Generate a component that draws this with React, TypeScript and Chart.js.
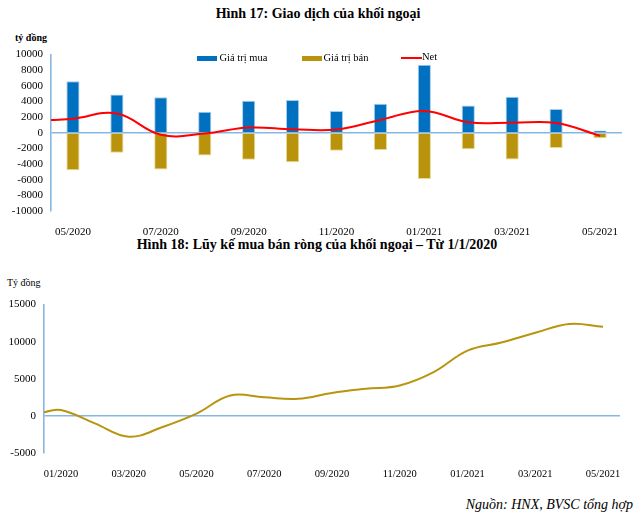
import React, { useEffect, useRef } from "react";
import { Chart, registerables } from "chart.js";

Chart.register(...registerables);

// ---------- Data: Hình 17 ----------
const months1 = ["05/2020", "06/2020", "07/2020", "08/2020", "09/2020", "10/2020", "11/2020", "12/2020", "01/2021", "02/2021", "03/2021", "04/2021", "05/2021"];
const buyValues = [6600, 4900, 4550, 2700, 4100, 4200, 2800, 3700, 8700, 3500, 4600, 3050, 300];
const sellValues = [-4800, -2550, -4700, -2900, -3450, -3750, -2300, -2200, -5900, -2100, -3400, -1950, -700];
const netStart = 1630;
const netValues = [1800, 2460, -250, -100, 670, 450, 420, 1650, 2800, 1340, 1300, 1250, -375];
const yTicks1 = { min: -10000, max: 10000, step: 2000 };

// ---------- Data: Hình 18 ----------
const months2 = ["01/2020", "02/2020", "03/2020", "04/2020", "05/2020", "06/2020", "07/2020", "08/2020", "09/2020", "10/2020", "11/2020", "12/2020", "01/2021", "02/2021", "03/2021", "04/2021", "05/2021"];
const cumStart = 500;
const cumValues = [800, -1000, -2800, -1500, 300, 2750, 2500, 2300, 3100, 3650, 4100, 5900, 8800, 9900, 11200, 12400, 12000];
const yTicks2 = { min: -5000, max: 15000, step: 5000 };

const SERIF = "'Liberation Serif', 'DejaVu Serif', 'Times New Roman', serif";
const AXIS_BLUE = "#86B7E3";
const BLUE = "#0070C0";
const GOLD = "#B8930B";
const RED = "#FF0000";

Chart.defaults.font.family = SERIF;
Chart.defaults.color = "#000";

const plainNumber = (v: any) => String(Math.round(Number(v)));

function ChartTop() {
  const ref = useRef<HTMLCanvasElement | null>(null);
  useEffect(() => {
    if (!ref.current) return;
    const chart = new Chart(ref.current, {
      type: "bar",
      data: {
        labels: months1,
        datasets: [
          {
            type: "line",
            label: "Net",
            xAxisID: "xLine",
            data: [{ x: -0.5, y: netStart }, ...netValues.map((v, i) => ({ x: i, y: v }))],
            borderColor: RED,
            borderWidth: 2,
            pointRadius: 0,
            tension: 0.4,
            order: 0,
          } as any,
          {
            label: "Giá trị mua",
            data: buyValues,
            backgroundColor: BLUE,
            borderColor: "#A9CBEA",
            borderWidth: 1,
            barPercentage: 0.3,
            categoryPercentage: 1,
            grouped: false,
            order: 1,
          } as any,
          {
            label: "Giá trị bán",
            data: sellValues,
            backgroundColor: GOLD,
            borderColor: "#E8D892",
            borderWidth: 1,
            barPercentage: 0.3,
            categoryPercentage: 1,
            grouped: false,
            order: 1,
          } as any,
        ],
      },
      options: {
        responsive: false,
        animation: false,
        layout: { padding: { top: 11, right: 18, left: 0, bottom: 0 } },
        plugins: { legend: { display: false }, tooltip: { enabled: false }, title: { display: false } },
        scales: {
          x: {
            type: "category",
            offset: true,
            grid: { display: false },
            border: { display: false },
            ticks: {
              autoSkip: false,
              maxRotation: 0,
              padding: 7,
              font: { size: 11, family: SERIF },
              color: "#000",
              callback: (_v: any, i: number) => (i % 2 === 0 ? months1[i] : ""),
            },
            afterFit: (s: any) => {
              s.height = 24;
            },
          },
          xLine: {
            type: "linear",
            display: false,
            offset: false,
            min: -0.5,
            max: months1.length - 0.5,
            grid: { offset: false },
          },
          y: {
            min: yTicks1.min,
            max: yTicks1.max,
            ticks: {
              stepSize: yTicks1.step,
              autoSkip: false,
              padding: 8,
              font: { size: 11, family: SERIF },
              color: "#000",
              callback: plainNumber,
            },
            grid: {
              drawTicks: false,
              lineWidth: 1.6,
              color: (ctx: any) => (ctx.tick && ctx.tick.value === 0 ? AXIS_BLUE : "rgba(0,0,0,0)"),
            },
            border: { display: true, color: AXIS_BLUE, width: 1.6 },
            afterFit: (s: any) => {
              s.width = 51;
            },
          },
        },
      } as any,
    });
    return () => chart.destroy();
  }, []);
  return (
    <canvas
      ref={ref}
      width={640}
      height={195}
      style={{ position: "absolute", left: 0, top: 40, width: 640, height: 195 }}
    />
  );
}

function ChartBottom() {
  const ref = useRef<HTMLCanvasElement | null>(null);
  useEffect(() => {
    if (!ref.current) return;
    const chart = new Chart(ref.current, {
      type: "line",
      data: {
        datasets: [
          {
            label: "Lũy kế",
            data: [{ x: -0.5, y: cumStart }, ...cumValues.map((v, i) => ({ x: i, y: v }))],
            borderColor: "#B8940F",
            borderWidth: 2,
            pointRadius: 0,
            tension: 0.4,
          },
        ],
      },
      options: {
        responsive: false,
        animation: false,
        layout: { padding: { top: 13, right: 20, left: 0, bottom: 0 } },
        plugins: { legend: { display: false }, tooltip: { enabled: false }, title: { display: false } },
        scales: {
          x: {
            type: "linear",
            min: -0.5,
            max: months2.length - 0.5,
            grid: { display: false },
            border: { display: false },
            afterBuildTicks: (s: any) => {
              s.ticks = months2.map((_m, i) => ({ value: i }));
            },
            ticks: {
              autoSkip: false,
              maxRotation: 0,
              padding: 7,
              font: { size: 10.5, family: SERIF },
              color: "#000",
              callback: (v: any) => {
                const i = Math.round(Number(v));
                return i % 2 === 0 ? months2[i] : "";
              },
            },
            afterFit: (s: any) => {
              s.height = 27;
            },
          },
          y: {
            min: yTicks2.min,
            max: yTicks2.max,
            ticks: {
              stepSize: yTicks2.step,
              autoSkip: false,
              padding: 8,
              font: { size: 11, family: SERIF },
              color: "#000",
              callback: plainNumber,
            },
            grid: {
              drawTicks: false,
              lineWidth: 1.4,
              color: (ctx: any) => (ctx.tick && ctx.tick.value === 0 ? AXIS_BLUE : "rgba(0,0,0,0)"),
            },
            border: { display: true, color: AXIS_BLUE, width: 1.6 },
            afterFit: (s: any) => {
              s.width = 44;
            },
          },
        },
      } as any,
    });
    return () => chart.destroy();
  }, []);
  return (
    <canvas
      ref={ref}
      width={640}
      height={190}
      style={{ position: "absolute", left: 0, top: 290, width: 640, height: 190 }}
    />
  );
}

const abs = (o: React.CSSProperties): React.CSSProperties => ({ position: "absolute", whiteSpace: "nowrap", ...o });

export default function App() {
  return (
    <div
      style={{
        position: "absolute",
        left: 0,
        top: 0,
        width: 640,
        height: 514,
        background: "#fff",
        fontFamily: SERIF,
        color: "#000",
        overflow: "hidden",
      }}
    >
      <div style={abs({ left: 0, top: 6, width: 636, textAlign: "center", fontSize: 14, lineHeight: "16px", fontWeight: "bold" })}>
        Hình 17: Giao dịch của khối ngoại
      </div>
      <div style={abs({ left: 15, top: 32, fontSize: 10, lineHeight: "12px", fontWeight: "bold" })}>tỷ đồng</div>

      <ChartTop />

      {/* legend of Hình 17 */}
      <div style={abs({ left: 197, top: 56, width: 20, height: 5, background: BLUE })} />
      <div style={abs({ left: 219.5, top: 53, fontSize: 10.5, lineHeight: "10px" })}>Giá trị mua</div>
      <div style={abs({ left: 302, top: 56, width: 20, height: 5, background: GOLD })} />
      <div style={abs({ left: 323.5, top: 53, fontSize: 10.5, lineHeight: "10px" })}>Giá trị bán</div>
      <div style={abs({ left: 401, top: 57, width: 21, height: 2, background: RED })} />
      <div style={abs({ left: 422, top: 52, fontSize: 10.5, lineHeight: "10px" })}>Net</div>

      <div style={abs({ left: 0, top: 237, width: 634, textAlign: "center", fontSize: 14, lineHeight: "16px", fontWeight: "bold" })}>
        Hình 18: Lũy kế mua bán ròng của khối ngoại – Từ 1/1/2020
      </div>
      <div style={abs({ left: 7, top: 277, fontSize: 10, lineHeight: "12px" })}>Tỷ đồng</div>

      <ChartBottom />

      <div style={abs({ right: 7, top: 497, fontSize: 14, lineHeight: "16px", fontStyle: "italic" })}>
        Nguồn: HNX, BVSC tổng hợp
      </div>
    </div>
  );
}
